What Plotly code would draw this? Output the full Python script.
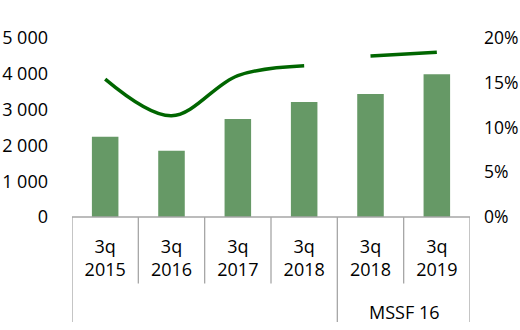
import plotly.graph_objects as go

# ---- data ----
periods = ["3q<br>2015", "3q<br>2016", "3q<br>2017", "3q<br>2018", "3q<br>2018", "3q<br>2019"]
group_labels = ["", "MSSF 16"]
group_sizes = [4, 2]
bar_values = [2240, 1850, 2740, 3210, 3435, 3990]
line_values = [15.4, 11.3, 15.8, 16.9, 18.0, 18.4]
line_segments = [0, 0, 0, 0, 1, 1]  # line breaks between segments

FONT = "Open Sans"
BAR_COLOR = "#669966"
LINE_COLOR = "#006600"
AXIS_COLOR = "#A6A6A6"

idx = list(range(len(periods)))

# build line with a gap between segments
line_x, line_y = [], []
for i, (v, s) in enumerate(zip(line_values, line_segments)):
    if i > 0 and s != line_segments[i - 1]:
        line_x.append(None)
        line_y.append(None)
    line_x.append(i)
    line_y.append(v)

fig = go.Figure()
fig.add_trace(go.Bar(x=idx, y=bar_values, marker=dict(color=BAR_COLOR, line=dict(width=0)),
                     yaxis="y", showlegend=False))
fig.add_trace(go.Scatter(x=line_x, y=line_y, mode="lines", yaxis="y2", connectgaps=False,
                         line=dict(color=LINE_COLOR, width=3.5, shape="spline", smoothing=1.0),
                         showlegend=False))

W, H = 520, 330
mt, mb, ml, mr = 38, 113, 72, 50
ph = H - mt - mb

shapes = []
# axis baseline
shapes.append(dict(type="line", xref="x", yref="paper", x0=-0.5, x1=len(idx) - 0.5, y0=0, y1=0,
                   line=dict(color=AXIS_COLOR, width=1.3)))
# group boundaries
bounds = [-0.5]
acc = -0.5
for g in group_sizes:
    acc += g
    bounds.append(acc)
short_len = (283.5 - (H - mb)) / ph
long_len = (322 - (H - mb)) / ph
for k in range(len(idx) + 1):
    b = k - 0.5
    ln = long_len if b in bounds else short_len
    shapes.append(dict(type="line", xref="x", yref="paper", x0=b, x1=b, y0=0, y1=-ln,
                       line=dict(color=AXIS_COLOR, width=1.3)))

annotations = []
start = 0
for lab, g in zip(group_labels, group_sizes):
    if lab:
        annotations.append(dict(x=start + (g - 1) / 2, y=-(311.5 - (H - mb)) / ph, xref="x", yref="paper",
                                text=lab, showarrow=False, font=dict(family=FONT, size=18, color="black"),
                                xanchor="center", yanchor="middle"))
    start += g

fig.update_layout(
    width=W, height=H,
    margin=dict(l=ml, r=mr, t=mt, b=mb, pad=0, autoexpand=False),
    paper_bgcolor="white", plot_bgcolor="white",
    bargap=0.6,
    separators=". ",
    font=dict(family=FONT, size=18, color="black"),
    xaxis=dict(tickmode="array", tickvals=idx, ticktext=periods, range=[-0.5, len(idx) - 0.5],
               showgrid=False, zeroline=False, showline=False, ticks="", automargin=False,
               tickfont=dict(family=FONT, size=18, color="black"), ticklabelstandoff=17),
    yaxis=dict(range=[0, 5000], dtick=1000, tickformat=",d", showgrid=False, zeroline=False,
               showline=False, ticks="", ticklabelstandoff=23, automargin=False,
               tickfont=dict(family=FONT, size=18, color="black")),
    yaxis2=dict(range=[0, 20], dtick=5, ticksuffix="%", overlaying="y", side="right",
                showgrid=False, zeroline=False, showline=False, ticks="", ticklabelstandoff=13,
                automargin=False, tickfont=dict(family=FONT, size=17.5, color="black")),
    shapes=shapes,
    annotations=annotations,
)

fig.write_html("out.html")
